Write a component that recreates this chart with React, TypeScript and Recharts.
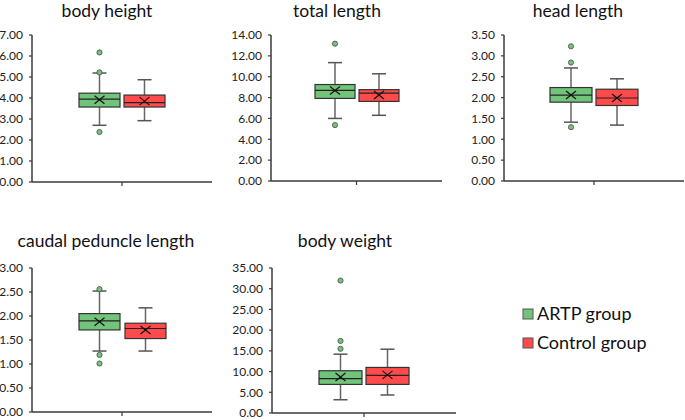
import { BarChart, Bar, XAxis, YAxis } from "recharts"

// Box plot values
const panelTitles = ["body height", "total length", "head length", "caudal peduncle length", "body weight"]
const groupNames = ["ARTP group", "Control group"]
const axisMax = [7, 14, 3.5, 3, 35]
const tickStep = [1, 2, 0.5, 0.5, 5]

// [lower whisker, Q1, median, Q3, upper whisker, mean]
const artpStats = [
  [2.7, 3.57, 3.95, 4.23, 5.19, 3.92],
  [6.0, 7.92, 8.69, 9.25, 11.35, 8.68],
  [1.41, 1.89, 2.06, 2.24, 2.71, 2.06],
  [1.27, 1.71, 1.9, 2.05, 2.52, 1.88],
  [3.2, 6.9, 8.3, 10.2, 14.2, 8.7],
]
const controlStats = [
  [2.92, 3.57, 3.78, 4.14, 4.87, 3.85],
  [6.3, 7.63, 8.42, 8.76, 10.28, 8.25],
  [1.34, 1.81, 1.99, 2.2, 2.45, 1.99],
  [1.27, 1.53, 1.74, 1.85, 2.17, 1.71],
  [4.35, 6.9, 9.1, 11.0, 15.4, 9.2],
]
const artpOutliers = [
  [6.17, 5.22, 2.38],
  [13.17, 5.36],
  [3.23, 2.84, 1.29],
  [2.56, 1.19, 1.01],
  [31.97, 17.4, 15.5],
]
const controlOutliers: number[][] = [[], [], [], [], []]

const GREEN = "#72C47A"
const RED = "#FF4B4B"
const AXIS = "#3a3a3a"

// plot area of each panel in page pixels
const plots = [
  { x: 32, y: 35, w: 180, h: 147, bar: 41, gap: 4, tx: 107, ty: 17 },
  { x: 271, y: 35, w: 171, h: 146, bar: 40, gap: 4, tx: 337, ty: 17 },
  { x: 504, y: 35, w: 180, h: 146, bar: 42, gap: 4, tx: 578, ty: 17 },
  { x: 32, y: 268, w: 180, h: 144, bar: 41, gap: 5, tx: 106, ty: 247 },
  { x: 272, y: 268, w: 184, h: 145, bar: 43, gap: 4, tx: 345, ty: 247 },
]

function makeBox(key: string, fill: string) {
  return (props: any) => {
    const { x, y, width, height, payload } = props
    const [lo, hi] = payload[key]
    const s: number[] = payload[key + "Stats"]
    const outs: number[] = payload[key + "Out"]
    const py = (v: number) => y + (height * (hi - v)) / (hi - lo)
    const cx = x + width / 2
    const cap = 7
    return (
      <g>
        <line x1={cx} x2={cx} y1={py(s[4])} y2={py(s[3])} stroke="#666" strokeWidth={1.5} />
        <line x1={cx} x2={cx} y1={py(s[1])} y2={py(s[0])} stroke="#666" strokeWidth={1.5} />
        <line x1={cx - cap} x2={cx + cap} y1={py(s[4])} y2={py(s[4])} stroke="#555" strokeWidth={1.5} />
        <line x1={cx - cap} x2={cx + cap} y1={py(s[0])} y2={py(s[0])} stroke="#555" strokeWidth={1.5} />
        <rect x={x} y={py(s[3])} width={width} height={py(s[1]) - py(s[3])} fill={fill} stroke="#333" strokeWidth={1.2} />
        <line x1={x} x2={x + width} y1={py(s[2])} y2={py(s[2])} stroke="#222" strokeWidth={1.2} />
        <line x1={cx - 5} x2={cx + 5} y1={py(s[5]) - 4} y2={py(s[5]) + 4} stroke="#111" strokeWidth={1.2} />
        <line x1={cx - 5} x2={cx + 5} y1={py(s[5]) + 4} y2={py(s[5]) - 4} stroke="#111" strokeWidth={1.2} />
        {outs.map((v, i) => (
          <circle key={i} cx={cx} cy={py(v)} r={2.6} fill={fill} stroke="#4a4a4a" strokeWidth={0.8} />
        ))}
      </g>
    )
  }
}

function Panel({ i }: { i: number }) {
  const p = plots[i]
  const a = artpStats[i]
  const c = controlStats[i]
  const data = [
    {
      name: "",
      artp: [Math.min(a[0], ...artpOutliers[i]), Math.max(a[4], ...artpOutliers[i])],
      artpStats: a,
      artpOut: artpOutliers[i],
      control: [Math.min(c[0], ...controlOutliers[i]), Math.max(c[4], ...controlOutliers[i])],
      controlStats: c,
      controlOut: controlOutliers[i],
    },
  ]
  const ticks: number[] = []
  for (let k = 0; k <= Math.round(axisMax[i] / tickStep[i]); k++) ticks.push(+(k * tickStep[i]).toFixed(2))
  const yw = 40
  return (
    <div style={{ position: "absolute", left: p.x - yw, top: p.y - 10 }}>
      <BarChart
        width={p.w + yw + 2}
        height={p.h + 10 + 6 + 10}
        data={data}
        margin={{ top: 10, right: 2, left: 0, bottom: 10 }}
        barSize={p.bar}
        barGap={p.gap}
      >
        <XAxis
          dataKey="name"
          tick={{ fontSize: 1, fill: "none" }}
          height={6}
          tickSize={4}
          axisLine={{ stroke: AXIS, strokeWidth: 1.5 }}
          tickLine={{ stroke: AXIS, strokeWidth: 1.2 }}
        />
        <YAxis
          width={yw}
          domain={[0, axisMax[i]]}
          ticks={ticks}
          allowDataOverflow
          tickFormatter={(v: number) => v.toFixed(2)}
          tickSize={3}
          tickMargin={6}
          tick={{ fontSize: 12, fill: "#222", fontFamily: "Lato" }}
          axisLine={{ stroke: AXIS, strokeWidth: 1.5 }}
          tickLine={{ stroke: AXIS, strokeWidth: 1.2 }}
        />
        <Bar dataKey="artp" name={groupNames[0]} fill={GREEN} shape={makeBox("artp", GREEN)} isAnimationActive={false} />
        <Bar dataKey="control" name={groupNames[1]} fill={RED} shape={makeBox("control", RED)} isAnimationActive={false} />
      </BarChart>
    </div>
  )
}

export default function App() {
  return (
    <div style={{ position: "absolute", left: 0, top: 0, width: 685, height: 420, overflow: "hidden", background: "#fff" }}>
      {plots.map((_, i) => (
        <Panel key={i} i={i} />
      ))}
      <svg width={685} height={420} style={{ position: "absolute", left: 0, top: 0, pointerEvents: "none" }}>
        {plots.map((p, i) => (
          <text key={i} x={p.tx} y={p.ty} textAnchor="middle" fontFamily="Lato" fontSize={17.5} fill="#111">
            {panelTitles[i]}
          </text>
        ))}
        <rect x={523} y={309} width={10} height={10} fill={GREEN} stroke="#555" />
        <text x={537} y={320} fontFamily="Lato" fontSize={18} fill="#111">{groupNames[0]}</text>
        <rect x={523} y={338} width={10} height={10} fill={RED} stroke="#555" />
        <text x={537} y={349} fontFamily="Lato" fontSize={18} fill="#111">{groupNames[1]}</text>
      </svg>
    </div>
  )
}
